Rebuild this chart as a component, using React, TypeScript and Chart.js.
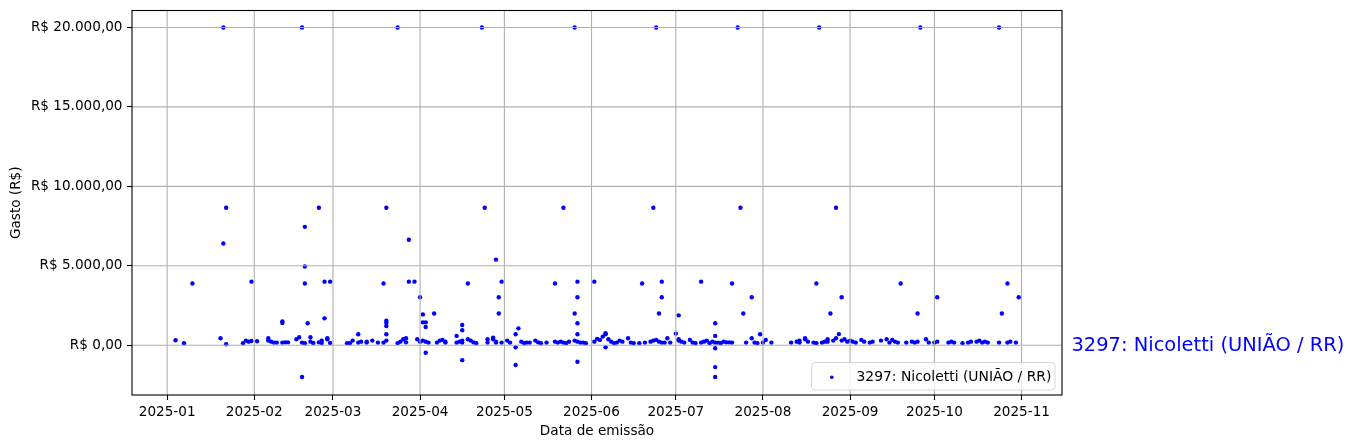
import React, { useEffect, useRef } from 'react';
import { Chart, registerables } from 'chart.js';

Chart.register(...registerables);

const seriesLabel = '3297: Nicoletti (UNIÃO / RR)';

const emissionDates: string[] = [
  '2025-01-04','2025-01-07','2025-01-10','2025-01-20','2025-01-21','2025-01-21','2025-01-22','2025-01-22','2025-01-28','2025-01-29','2025-01-30','2025-01-31','2025-01-31',
  '2025-02-02','2025-02-06','2025-02-06','2025-02-07','2025-02-08','2025-02-09','2025-02-11','2025-02-11','2025-02-11','2025-02-12','2025-02-13','2025-02-16','2025-02-17','2025-02-18','2025-02-18','2025-02-18','2025-02-19','2025-02-19','2025-02-19','2025-02-19','2025-02-20','2025-02-21','2025-02-21','2025-02-22','2025-02-24','2025-02-24','2025-02-25','2025-02-25','2025-02-26','2025-02-26','2025-02-27','2025-02-27','2025-02-28','2025-02-28',
  '2025-03-06','2025-03-07','2025-03-08','2025-03-10','2025-03-10','2025-03-11','2025-03-13','2025-03-13','2025-03-15','2025-03-17','2025-03-19','2025-03-19','2025-03-20','2025-03-20','2025-03-20','2025-03-20','2025-03-20','2025-03-20','2025-03-24','2025-03-24','2025-03-25','2025-03-26','2025-03-27','2025-03-27','2025-03-28','2025-03-28','2025-03-30','2025-03-31',
  '2025-04-01','2025-04-01','2025-04-02','2025-04-02','2025-04-02','2025-04-03','2025-04-03','2025-04-03','2025-04-03','2025-04-04','2025-04-06','2025-04-07','2025-04-08','2025-04-09','2025-04-10','2025-04-10','2025-04-14','2025-04-14','2025-04-15','2025-04-16','2025-04-16','2025-04-16','2025-04-16','2025-04-16','2025-04-18','2025-04-18','2025-04-19','2025-04-20','2025-04-21','2025-04-23','2025-04-24','2025-04-25','2025-04-25','2025-04-27','2025-04-27','2025-04-28','2025-04-28','2025-04-28','2025-04-29','2025-04-29','2025-04-30','2025-04-30',
  '2025-05-02','2025-05-03','2025-05-05','2025-05-05','2025-05-05','2025-05-06','2025-05-07','2025-05-08','2025-05-09','2025-05-10','2025-05-12','2025-05-13','2025-05-14','2025-05-16','2025-05-19','2025-05-19','2025-05-20','2025-05-21','2025-05-22','2025-05-22','2025-05-23','2025-05-24','2025-05-26','2025-05-26','2025-05-26','2025-05-27','2025-05-27','2025-05-27','2025-05-27','2025-05-27','2025-05-27','2025-05-28','2025-05-29','2025-05-30',
  '2025-06-02','2025-06-02','2025-06-03','2025-06-04','2025-06-05','2025-06-06','2025-06-06','2025-06-06','2025-06-07','2025-06-08','2025-06-09','2025-06-10','2025-06-11','2025-06-12','2025-06-14','2025-06-15','2025-06-16','2025-06-18','2025-06-19','2025-06-20','2025-06-22','2025-06-23','2025-06-23','2025-06-24','2025-06-24','2025-06-25','2025-06-25','2025-06-26','2025-06-26','2025-06-26','2025-06-27','2025-06-28','2025-06-29',
  '2025-07-01','2025-07-02','2025-07-02','2025-07-02','2025-07-03','2025-07-04','2025-07-06','2025-07-07','2025-07-08','2025-07-10','2025-07-10','2025-07-11','2025-07-12','2025-07-13','2025-07-14','2025-07-15','2025-07-15','2025-07-15','2025-07-15','2025-07-15','2025-07-15','2025-07-16','2025-07-17','2025-07-18','2025-07-19','2025-07-20','2025-07-21','2025-07-21','2025-07-23','2025-07-24','2025-07-25','2025-07-26','2025-07-28','2025-07-28','2025-07-29','2025-07-30','2025-07-31',
  '2025-08-01','2025-08-02','2025-08-04','2025-08-11','2025-08-13','2025-08-14','2025-08-14','2025-08-16','2025-08-16','2025-08-17','2025-08-19','2025-08-20','2025-08-20','2025-08-21','2025-08-22','2025-08-23','2025-08-24','2025-08-24','2025-08-25','2025-08-26','2025-08-27','2025-08-27','2025-08-28','2025-08-29','2025-08-29','2025-08-30','2025-08-31',
  '2025-09-01','2025-09-02','2025-09-03','2025-09-05','2025-09-06','2025-09-08','2025-09-09','2025-09-12','2025-09-14','2025-09-15','2025-09-16','2025-09-17','2025-09-18','2025-09-19','2025-09-21','2025-09-23','2025-09-24','2025-09-25','2025-09-25','2025-09-26','2025-09-28','2025-09-29',
  '2025-10-01','2025-10-02','2025-10-02','2025-10-06','2025-10-07','2025-10-08','2025-10-11','2025-10-13','2025-10-14','2025-10-16','2025-10-17','2025-10-18','2025-10-19','2025-10-20','2025-10-24','2025-10-24','2025-10-25','2025-10-27','2025-10-27','2025-10-28','2025-10-30','2025-10-31',
];

const amounts: number[] = [
  310,125,3880,440,6400,20000,60,8650,125,290,225,260,4000,
  250,440,290,225,163,163,163,1500,1400,180,180,376,500,-2000,163,20000,123,7450,4950,3880,1380,500,225,140,8650,180,290,140,1690,4000,376,438,4000,140,
  123,123,290,690,163,225,163,225,290,163,163,3880,690,1540,1415,1210,8650,290,123,20000,225,376,438,180,6640,4000,4000,376,
  225,3020,1940,1440,290,1440,1150,-480,225,163,2000,163,290,334,225,163,163,584,225,290,163,1270,940,-940,3880,376,290,180,123,20000,8650,163,376,480,376,225,163,5390,2000,3020,4000,163,
  290,163,690,-125,-1250,1060,225,123,163,163,290,180,123,163,3880,225,163,225,163,8650,123,225,290,20000,2000,690,1380,-1045,225,4000,3020,163,163,123,
  4000,225,400,334,540,690,751,-125,376,225,123,163,290,225,438,163,123,123,3880,163,225,290,8650,334,20000,225,2000,163,4000,3020,163,438,163,
  730,1880,376,290,225,163,334,163,123,163,4000,225,290,123,225,1380,584,-190,-1380,-2000,163,163,123,225,180,180,163,3880,20000,8650,2000,163,438,3020,163,123,690,
  163,334,163,163,225,290,163,376,438,225,163,123,3880,20000,163,225,376,225,2000,290,438,8650,700,290,3020,376,225,
  290,225,163,334,225,163,225,290,376,163,334,225,163,3880,163,225,163,225,2000,20000,376,163,
  163,225,3020,163,225,163,123,163,225,225,290,163,225,163,163,20000,2000,3880,163,225,163,3020,
];

const monthTickDates = ['2025-01-01','2025-02-01','2025-03-01','2025-04-01','2025-05-01','2025-06-01','2025-07-01','2025-08-01','2025-09-01','2025-10-01','2025-11-01'];
const monthTickLabels = ['2025-01','2025-02','2025-03','2025-04','2025-05','2025-06','2025-07','2025-08','2025-09','2025-10','2025-11'];
const yTickValues = [0, 5000, 10000, 15000, 20000];

const FONT = '"DejaVu Sans", sans-serif';
const FS = 13.6;
const DAY = 86400000;
const BASE = Date.UTC(2025, 0, 1);
const toDay = (s: string) => {
  const [y, m, d] = s.split('-').map(Number);
  return (Date.UTC(y, m - 1, d) - BASE) / DAY;
};
const brl = (v: number) => {
  const [i, f] = Math.abs(v).toFixed(2).split('.');
  return (v < 0 ? '-' : '') + 'R$ ' + i.replace(/\B(?=(\d{3})+(?!\d))/g, '.') + ',' + f;
};

const overlay = {
  id: 'overlay',
  afterDatasetsDraw(chart: any) {
    const { ctx, chartArea: a, scales } = chart;
    const x = scales.x, y = scales.y;
    ctx.save();
    // grid lines (drawn above points like matplotlib)
    ctx.strokeStyle = '#b0b0b0';
    ctx.lineWidth = 1.1;
    x.ticks.forEach((t: any) => {
      const px = x.getPixelForValue(t.value);
      ctx.beginPath(); ctx.moveTo(px, a.top); ctx.lineTo(px, a.bottom); ctx.stroke();
    });
    y.ticks.forEach((t: any) => {
      const py = y.getPixelForValue(t.value);
      ctx.beginPath(); ctx.moveTo(a.left, py); ctx.lineTo(a.right, py); ctx.stroke();
    });
    // legend
    const lx = 811.5, ly = 362.5, lw = 243.5, lh = 27.5;
    ctx.beginPath();
    (ctx as any).roundRect(lx, ly, lw, lh, 3.5);
    ctx.fillStyle = 'rgba(255,255,255,0.8)';
    ctx.fill();
    ctx.strokeStyle = 'rgba(204,204,204,0.8)';
    ctx.lineWidth = 1;
    ctx.stroke();
    ctx.fillStyle = '#0000ff';
    ctx.beginPath(); ctx.arc(831.8, 377.3, 1.8, 0, Math.PI * 2); ctx.fill();
    ctx.fillStyle = '#000';
    ctx.font = `13.9px ${FONT}`;
    ctx.textAlign = 'left';
    ctx.textBaseline = 'middle';
    ctx.fillText(seriesLabel, 856.5, 377);
    // frame
    ctx.strokeStyle = '#000';
    ctx.lineWidth = 1.1;
    ctx.strokeRect(a.left, a.top, a.right - a.left, a.bottom - a.top);
    // annotation at y = 0, right of the axes
    ctx.fillStyle = '#0000ff';
    ctx.font = `19.44px ${FONT}`;
    ctx.textBaseline = 'middle';
    ctx.fillText(seriesLabel, a.right + 9.5, y.getPixelForValue(0) + 0.5);
    ctx.restore();
  },
};

export default function App() {
  const ref = useRef<HTMLCanvasElement>(null);
  useEffect(() => {
    const canvas = ref.current!;
    const points = emissionDates.map((d, i) => ({ x: toDay(d), y: amounts[i] }));
    const chart = new Chart(canvas, {
      type: 'scatter',
      data: {
        datasets: [{
          label: seriesLabel,
          data: points,
          backgroundColor: '#0000ff',
          borderColor: '#0000ff',
          borderWidth: 0,
          pointRadius: 2.2,
          pointHoverRadius: 2.2,
        }],
      },
      options: {
        animation: false,
        responsive: false,
        devicePixelRatio: 1,
        layout: { padding: { top: 10.5, right: 292, left: 0, bottom: 0 } },
        plugins: { legend: { display: false }, tooltip: { enabled: false } },
        scales: {
          x: {
            type: 'linear',
            min: -12.5,
            max: 318.4,
            afterBuildTicks: (s: any) => { s.ticks = monthTickDates.map((d) => ({ value: toDay(d) })); },
            afterFit: (s: any) => { s.height = 53; s.paddingLeft = 0; s.paddingRight = 0; },
            ticks: {
              autoSkip: false, maxRotation: 0, minRotation: 0, padding: 4, color: '#000',
              font: { family: FONT, size: FS },
              callback: (_v: any, i: number) => monthTickLabels[i],
            },
            grid: { drawOnChartArea: false, tickLength: 5, tickColor: '#000', tickWidth: 1.1 },
            border: { display: false },
            title: { display: true, text: 'Data de emissão', color: '#000', font: { family: FONT, size: FS }, padding: { top: 0, bottom: 8.5 } },
          },
          y: {
            type: 'linear',
            min: -3135,
            max: 21070,
            afterBuildTicks: (s: any) => { s.ticks = yTickValues.map((v) => ({ value: v })); },
            afterFit: (s: any) => { s.width = 132; s.paddingTop = 0; s.paddingBottom = 0; },
            ticks: {
              padding: 4.5, color: '#000',
              font: { family: FONT, size: FS },
              callback: (v: any) => brl(Number(v)),
            },
            grid: { drawOnChartArea: false, tickLength: 5, tickColor: '#000', tickWidth: 1.1 },
            border: { display: false },
            title: { display: true, text: 'Gasto (R$)', color: '#000', font: { family: FONT, size: FS }, padding: { top: 8.5, bottom: 0 } },
          },
        },
      },
      plugins: [overlay],
    } as any);
    return () => chart.destroy();
  }, []);
  return (
    <div style={{ position: 'fixed', left: 0, top: 0, width: 1354, height: 448, background: '#fff' }}>
      <canvas ref={ref} width={1354} height={448} style={{ width: 1354, height: 448, display: 'block' }} />
    </div>
  );
}
